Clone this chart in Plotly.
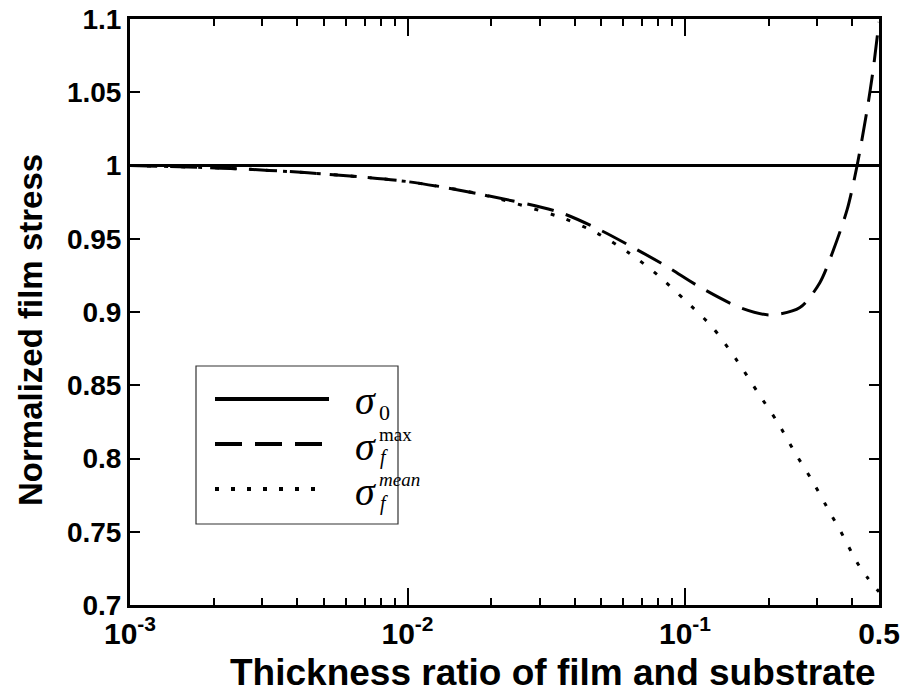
import plotly.graph_objects as go

# Normalized film stress versus film/substrate thickness ratio
thickness_max = [0.001, 0.00229, 0.00438, 0.01, 0.0187, 0.0354, 0.0494, 0.065,
                 0.0861, 0.1132, 0.158, 0.2023, 0.2594, 0.306, 0.342, 0.384,
                 0.417, 0.453, 0.476, 0.5]
stress_max = [1.0, 0.998, 0.995, 0.989, 0.980, 0.968, 0.956, 0.944,
              0.931, 0.917, 0.903, 0.898, 0.903, 0.920, 0.942, 0.970,
              1.000, 1.038, 1.065, 1.098]

thickness_mean = [0.001, 0.00229, 0.00438, 0.01, 0.0187, 0.0364, 0.048, 0.0632,
                  0.080, 0.100, 0.125, 0.155, 0.183, 0.215, 0.249, 0.289,
                  0.333, 0.362, 0.417, 0.453, 0.5]
stress_mean = [1.0, 0.998, 0.995, 0.989, 0.980, 0.964, 0.954, 0.940,
               0.925, 0.908, 0.890, 0.866, 0.845, 0.825, 0.804, 0.784,
               0.763, 0.751, 0.729, 0.719, 0.709]

thickness_ref = [0.001, 0.5]
stress_ref = [1.0, 1.0]

x_tickvals = [0.001, 0.01, 0.1, 0.5]
x_ticktext = ["10<sup>-3</sup>", "10<sup>-2</sup>", "10<sup>-1</sup>", "0.5"]
x_minor = [2e-3, 3e-3, 4e-3, 5e-3, 6e-3, 7e-3, 8e-3, 9e-3,
           2e-2, 3e-2, 4e-2, 5e-2, 6e-2, 7e-2, 8e-2, 9e-2,
           0.2, 0.3, 0.4]
y_tickvals = [0.7, 0.75, 0.8, 0.85, 0.9, 0.95, 1.0, 1.05, 1.1]
y_ticktext = ["0.7", "0.75", "0.8", "0.85", "0.9", "0.95", "1", "1.05", "1.1"]

W, H = 901, 695
ML, MR, MT, MB = 130, 22, 19, 90
PW, PH = W - ML - MR, H - MT - MB


def px(x):
    return (x - ML) / PW


def py(y):
    return (H - MB - y) / PH


sans = "Liberation Sans"
serif = "Liberation Serif"

fig = go.Figure()
fig.add_trace(go.Scatter(x=thickness_ref, y=stress_ref, mode="lines",
                         line=dict(color="black", width=3), showlegend=False))
fig.add_trace(go.Scatter(x=thickness_max, y=stress_max, mode="lines",
                         line=dict(color="black", width=3, dash="27px,13px",
                                   shape="spline", smoothing=0.8),
                         showlegend=False))
fig.add_trace(go.Scatter(x=thickness_mean, y=stress_mean, mode="lines",
                         line=dict(color="black", width=3, dash="4px,13px",
                                   shape="spline", smoothing=0.8),
                         showlegend=False))

axis_common = dict(showline=True, linecolor="black", linewidth=3, mirror="allticks",
                   ticks="inside", tickcolor="black", showgrid=False, zeroline=False,
                   automargin=False)

fig.update_xaxes(type="log", range=[-3, -0.30103], tickmode="array",
                 tickvals=x_tickvals, ticktext=x_ticktext, ticklen=17, tickwidth=2,
                 tickfont=dict(family=sans, size=30, color="black", weight="bold"),
                 minor=dict(tickmode="array", tickvals=x_minor, ticks="inside",
                            ticklen=7, tickwidth=2, tickcolor="black", showgrid=False),
                 **axis_common)
fig.update_yaxes(range=[0.7, 1.1], tickmode="array", tickvals=y_tickvals,
                 ticktext=y_ticktext, ticklen=10, tickwidth=2,
                 tickfont=dict(family=sans, size=28, color="black", weight="bold"),
                 **axis_common)

# Legend drawn as a framed box with sample lines and symbol labels
shapes = [
    dict(type="rect", xref="paper", yref="paper", x0=px(196), x1=px(398),
         y0=py(524), y1=py(366), line=dict(color="#333", width=1.2)),
    dict(type="line", xref="paper", yref="paper", x0=px(215), x1=px(329),
         y0=py(399), y1=py(399), line=dict(color="black", width=4)),
    dict(type="line", xref="paper", yref="paper", x0=px(215), x1=px(326),
         y0=py(444), y1=py(444), line=dict(color="black", width=4, dash="27px,13px")),
    dict(type="line", xref="paper", yref="paper", x0=px(215), x1=px(318),
         y0=py(489), y1=py(489), line=dict(color="black", width=4, dash="4px,12px")),
]

annotations = []


def label(text, x, y, size, xanchor="left", yanchor="middle", angle=0, family=serif):
    annotations.append(dict(text=text, x=px(x), y=py(y), xref="paper", yref="paper",
                            showarrow=False, xanchor=xanchor, yanchor=yanchor,
                            textangle=angle,
                            font=dict(family=family, size=size, color="black")))


label("<i>σ</i>", 353, 400, 40)
label("0", 377, 412, 22)
label("<i>σ</i>", 353, 446, 40)
label("max", 377, 434, 19)
label("<i>f</i>", 378, 458, 20)
label("<i>σ</i>", 353, 491, 40)
label("<i>mean</i>", 377, 479, 19)
label("<i>f</i>", 378, 503, 20)

annotations.append(dict(text="<b>Thickness ratio of film and substrate</b>",
                        x=px(553), y=py(672), xref="paper", yref="paper",
                        showarrow=False, xanchor="center", yanchor="middle",
                        font=dict(family=sans, size=37, color="black")))
annotations.append(dict(text="<b>Normalized film stress</b>",
                        x=px(30), y=py(330), xref="paper", yref="paper",
                        showarrow=False, xanchor="center", yanchor="middle",
                        textangle=-90,
                        font=dict(family=sans, size=33, color="black")))

fig.update_layout(width=W, height=H, margin=dict(l=ML, r=MR, t=MT, b=MB),
                  paper_bgcolor="white", plot_bgcolor="white",
                  shapes=shapes, annotations=annotations, showlegend=False)

fig.write_html("out.html")
